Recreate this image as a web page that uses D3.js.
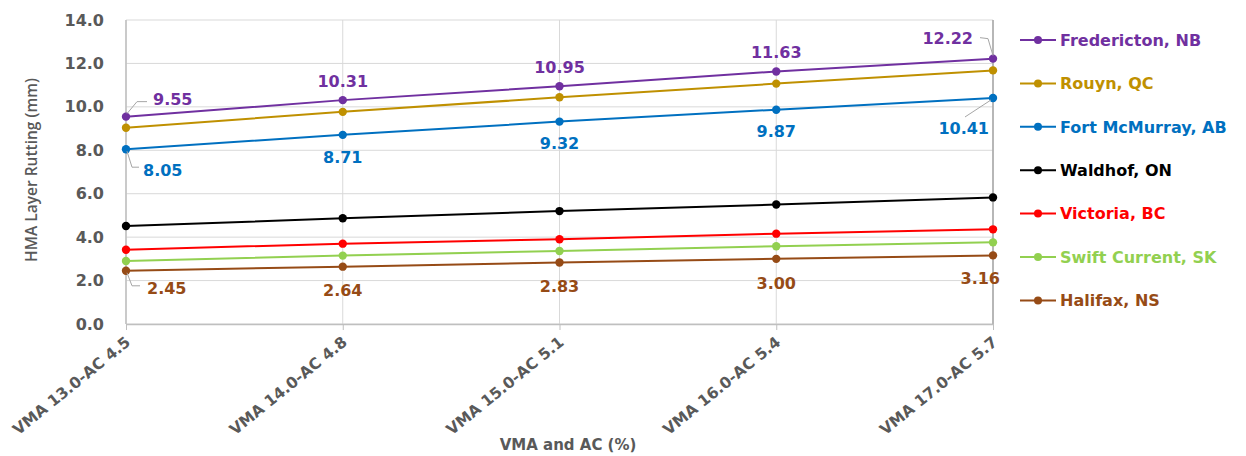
<!DOCTYPE html>
<html>
<head>
<meta charset="utf-8">
<script src="https://cdn.jsdelivr.net/npm/d3@7"></script>
<style>
  html, body { margin: 0; padding: 0; background: #fff; }
  svg { display: block; }
  text { font-family: "DejaVu Sans", Verdana, sans-serif; }
</style>
</head>
<body>
<svg id="chart" width="1246" height="456"></svg>
<script>
// Mix design categories (VMA / asphalt content)
const categories = ["VMA 13.0-AC 4.5", "VMA 14.0-AC 4.8", "VMA 15.0-AC 5.1", "VMA 16.0-AC 5.4", "VMA 17.0-AC 5.7"];

// Predicted HMA layer rutting (mm) per site
const fredericton   = [9.55, 10.31, 10.95, 11.63, 12.22];
const rouyn         = [9.04, 9.77, 10.44, 11.07, 11.68];
const fortMcMurray  = [8.05, 8.71, 9.32, 9.87, 10.41];
const waldhof       = [4.51, 4.87, 5.20, 5.50, 5.83];
const victoria      = [3.42, 3.70, 3.90, 4.16, 4.36];
const swiftCurrent  = [2.90, 3.15, 3.36, 3.58, 3.76];
const halifax       = [2.45, 2.64, 2.83, 3.00, 3.16];

const yTicks = [0, 2, 4, 6, 8, 10, 12, 14];

const series = [
  { name: "Fredericton, NB",     values: fredericton,  color: "#7030A0" },
  { name: "Rouyn, QC",           values: rouyn,        color: "#BF9000" },
  { name: "Fort McMurray, AB",   values: fortMcMurray, color: "#0070C0" },
  { name: "Waldhof, ON",         values: waldhof,      color: "#000000" },
  { name: "Victoria, BC",        values: victoria,     color: "#FF0000" },
  { name: "Swift Current, SK",   values: swiftCurrent, color: "#92D050" },
  { name: "Halifax, NS",         values: halifax,      color: "#964B16" }
];

const svg = d3.select("#chart");
const plot = { left: 126, right: 993, top: 20, bottom: 324 };

const x = d3.scalePoint().domain(categories).range([plot.left, plot.right]);
const y = d3.scaleLinear().domain([0, 14]).range([plot.bottom, plot.top]);

const gray = "#595959";

// Horizontal gridlines
svg.append("g").selectAll("line").data(yTicks).join("line")
  .attr("x1", plot.left).attr("x2", plot.right)
  .attr("y1", d => y(d)).attr("y2", d => y(d))
  .attr("stroke", "#D9D9D9").attr("stroke-width", 1);

// Vertical gridlines at each category
svg.append("g").selectAll("line").data(categories).join("line")
  .attr("x1", d => x(d)).attr("x2", d => x(d))
  .attr("y1", plot.top).attr("y2", plot.bottom)
  .attr("stroke", "#D9D9D9").attr("stroke-width", 1);

// Left and right frame lines
svg.append("line").attr("x1", plot.left).attr("x2", plot.left)
  .attr("y1", plot.top).attr("y2", plot.bottom)
  .attr("stroke", "#BFBFBF").attr("stroke-width", 1.5);
svg.append("line").attr("x1", plot.right).attr("x2", plot.right)
  .attr("y1", plot.top).attr("y2", plot.bottom)
  .attr("stroke", "#A6A6A6").attr("stroke-width", 1.5);

// Y axis
const yAxis = svg.append("g")
  .attr("transform", `translate(${plot.left},0)`)
  .call(d3.axisLeft(y).tickValues(yTicks).tickFormat(d3.format(".1f")).tickSize(0).tickPadding(22));
yAxis.select(".domain").remove();
yAxis.selectAll("text")
  .attr("fill", gray).style("font-size", "16px").style("font-weight", "bold")
  .style("font-family", "'DejaVu Sans', sans-serif");

// X axis
const xAxis = svg.append("g")
  .attr("transform", `translate(0,${plot.bottom})`)
  .call(d3.axisBottom(x).tickSize(6).tickSizeOuter(0));
xAxis.select(".domain").attr("stroke", "#BFBFBF").attr("stroke-width", 1.5);
xAxis.selectAll(".tick line").attr("stroke", "#BFBFBF");
xAxis.selectAll("text")
  .attr("fill", gray).style("font-size", "15.5px").style("font-weight", "bold")
  .style("font-family", "'DejaVu Sans', sans-serif")
  .attr("text-anchor", "end")
  .attr("x", 0).attr("y", 0).attr("dy", 0)
  .attr("transform", "translate(5,20) rotate(-39)");

// Axis titles
svg.append("text")
  .attr("transform", "translate(37,170) rotate(-90)")
  .attr("text-anchor", "middle").attr("fill", gray)
  .style("font-family", "'Open Sans', sans-serif")
  .style("font-size", "15.5px").style("font-weight", 600)
  .text("HMA Layer Rutting (mm)");

svg.append("text")
  .attr("x", 568).attr("y", 450)
  .attr("text-anchor", "middle").attr("fill", gray)
  .style("font-size", "15px").style("font-weight", "bold")
  .text("VMA and AC (%)");

// Series lines and markers
const line = d3.line().x((d, i) => x(categories[i])).y(d => y(d));

series.forEach(s => {
  const g = svg.append("g");
  g.append("path").datum(s.values)
    .attr("d", line).attr("fill", "none")
    .attr("stroke", s.color).attr("stroke-width", 2);
  g.selectAll("circle").data(s.values).join("circle")
    .attr("cx", (d, i) => x(categories[i])).attr("cy", d => y(d))
    .attr("r", 4.2).attr("fill", s.color);
});

// Data labels (with leader lines at the ends)
const fmt = d3.format(".2f");
const leader = "#A6A6A6";

function label(s, i, dx, dy, anchor, path) {
  const px = x(categories[i]), py = y(s.values[i]);
  if (path) {
    svg.append("path")
      .attr("d", d3.line()(path.map(p => [px + p[0], py + p[1]])))
      .attr("fill", "none").attr("stroke", leader).attr("stroke-width", 1);
  }
  svg.append("text")
    .attr("x", px + dx).attr("y", py + dy)
    .attr("dy", "0.36em")
    .attr("text-anchor", anchor)
    .attr("fill", s.color)
    .style("font-size", "16px").style("font-weight", "bold")
    .text(fmt(s.values[i]));
}

const fr = series[0], fm = series[2], hx = series[6];

// Fredericton, NB
label(fr, 0, 27, -17, "start", [[1, -3], [11, -15], [21, -15]]);
[1, 2, 3].forEach(i => label(fr, i, 0, -19, "middle"));
label(fr, 4, -20, -20, "end", [[0, -3], [-5, -20], [-13, -21]]);

// Fort McMurray, AB
label(fm, 0, 17, 21, "start", [[1, 2], [6, 18], [13, 18]]);
[1, 2, 3].forEach(i => label(fm, i, 0, 22, "middle"));
label(fm, 4, -4, 30, "end", [[-2, 2], [-28, 19]]);

// Halifax, NS
label(hx, 0, 21, 17, "start", [[1, 2], [6, 15], [14, 15]]);
[1, 2, 3].forEach(i => label(hx, i, 0, 24, "middle"));
label(hx, 4, 7, 23, "end");

// Legend
const legend = svg.append("g");
series.forEach((s, k) => {
  const ly = 40 + k * 43.4;
  legend.append("line")
    .attr("x1", 1020).attr("x2", 1056).attr("y1", ly).attr("y2", ly)
    .attr("stroke", s.color).attr("stroke-width", 2);
  legend.append("circle").attr("cx", 1038).attr("cy", ly).attr("r", 4).attr("fill", s.color);
  legend.append("text")
    .attr("x", 1060).attr("y", ly).attr("dy", "0.36em")
    .attr("fill", s.color)
    .style("font-size", "16px").style("font-weight", "bold")
    .text(s.name);
});
</script>
</body>
</html>
